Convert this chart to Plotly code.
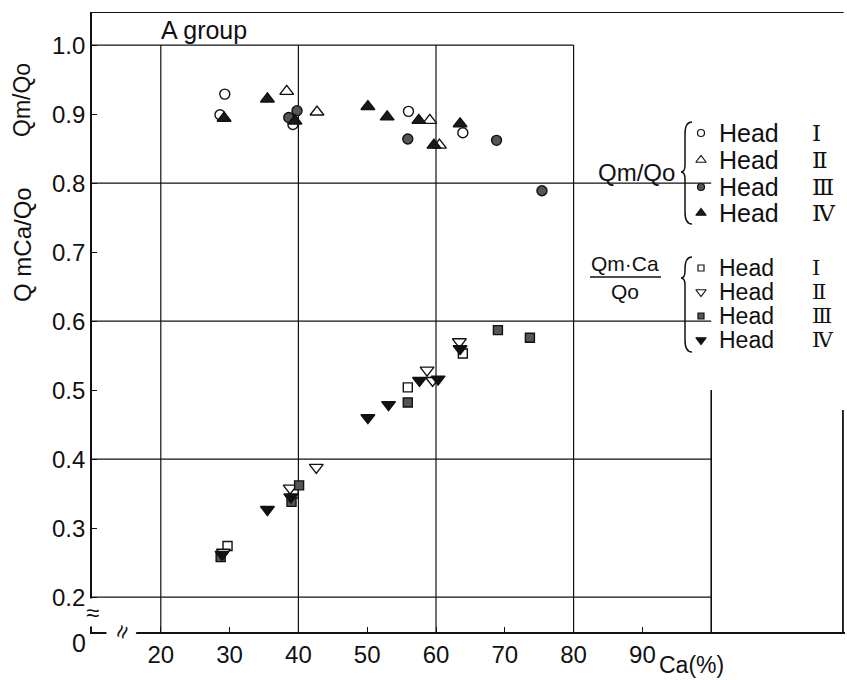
import plotly.graph_objects as go

# ---------------- data ----------------
# Qm/Qo group
qm_h1_x = [29.3, 28.6, 39.2, 56.0, 63.9]
qm_h1_y = [0.929, 0.899, 0.885, 0.904, 0.873]
qm_h2_x = [38.3, 42.7, 59.1, 60.5]
qm_h2_y = [0.933, 0.903, 0.891, 0.855]
qm_h3_x = [38.6, 39.8, 55.9, 68.8, 75.4]
qm_h3_y = [0.895, 0.905, 0.864, 0.862, 0.789]
qm_h4_x = [29.2, 35.5, 39.5, 50.1, 52.9, 57.5, 59.7, 63.5]
qm_h4_y = [0.894, 0.922, 0.890, 0.911, 0.896, 0.891, 0.855, 0.886]

# Qm*Ca/Qo group
qc_h1_x = [29.7, 39.3, 55.9, 63.9]
qc_h1_y = [0.274, 0.350, 0.504, 0.553]
qc_h2_x = [29.1, 38.8, 42.6, 58.7, 59.5, 63.4]
qc_h2_y = [0.265, 0.358, 0.388, 0.529, 0.514, 0.570]
qc_h3_x = [28.7, 39.0, 40.1, 55.9, 69.0, 73.65]
qc_h3_y = [0.258, 0.338, 0.362, 0.482, 0.587, 0.576]
qc_h4_x = [28.9, 35.5, 38.9, 50.1, 53.1, 57.6, 60.3, 63.5]
qc_h4_y = [0.262, 0.327, 0.345, 0.460, 0.479, 0.514, 0.516, 0.560]

x_tickvals = [20, 30, 40, 50, 60, 70, 80, 90]
x_ticktext = ["20", "30", "40", "50", "60", "70", "80", "90"]
y_tickvals = [0.2, 0.3, 0.4, 0.5, 0.6, 0.7, 0.8, 0.9, 1.0]
y_ticktext = ["0.2", "0.3", "0.4", "0.5", "0.6", "0.7", "0.8", "0.9", "1.0"]
numerals = ["Ⅰ", "Ⅱ", "Ⅲ", "Ⅳ"]

# ---------------- layout geometry ----------------
WIDTH, HEIGHT = 847, 680
L, T, R, B = 92, 12, 2, 48
W = WIDTH - L - R
H = HEIGHT - T - B
XR = [10, 10 + W / 6.88]
YR = [1.048 - H / 690.0, 1.048]

def px2x(px):
    return XR[0] + (px - L) / W * (XR[1] - XR[0])

def py2y(py):
    return YR[1] - (py - T) / H * (YR[1] - YR[0])

def pxp(px):
    return (px - L) / W

def pyp(py):
    return (T + H - py) / H

FONT = "Liberation Sans"
BLACK = "#111111"

styles = {
    "h1o": dict(symbol="circle", color="white", size=10),
    "h2o": dict(symbol="triangle-up", color="white", size=12),
    "h3o": dict(symbol="circle", color="#555555", size=10),
    "h4o": dict(symbol="triangle-up", color="#1a1a1a", size=12),
    "h1c": dict(symbol="square", color="white", size=9),
    "h2c": dict(symbol="triangle-down", color="white", size=12),
    "h3c": dict(symbol="square", color="#555555", size=9),
    "h4c": dict(symbol="triangle-down", color="#111111", size=12),
}

fig = go.Figure()

series = [
    ("h1o", qm_h1_x, qm_h1_y), ("h2o", qm_h2_x, qm_h2_y),
    ("h3o", qm_h3_x, qm_h3_y), ("h4o", qm_h4_x, qm_h4_y),
    ("h1c", qc_h1_x, qc_h1_y), ("h2c", qc_h2_x, qc_h2_y),
    ("h3c", qc_h3_x, qc_h3_y), ("h4c", qc_h4_x, qc_h4_y),
]
for key, xs, ys in series:
    st = styles[key]
    fig.add_trace(go.Scatter(
        x=xs, y=ys, mode="markers", showlegend=False, cliponaxis=False,
        marker=dict(symbol=st["symbol"], color=st["color"], size=st["size"],
                    line=dict(color=BLACK, width=1.4)),
    ))

# legend markers
leg1_py = [133, 160, 187, 213]
leg2_py = [268, 292, 316, 340]
for keys, pys in ((["h1o", "h2o", "h3o", "h4o"], leg1_py), (["h1c", "h2c", "h3c", "h4c"], leg2_py)):
    for key, py in zip(keys, pys):
        st = styles[key]
        fig.add_trace(go.Scatter(
            x=[px2x(701)], y=[py2y(py)], mode="markers", showlegend=False, cliponaxis=False,
            marker=dict(symbol=st["symbol"], color=st["color"], size=st["size"] - 3,
                        line=dict(color=BLACK, width=1.2)),
        ))

shapes = []
def line(x0, y0, x1, y1, w=1.2, ref="data"):
    if ref == "data":
        shapes.append(dict(type="line", xref="x", yref="y", x0=x0, y0=y0, x1=x1, y1=y1,
                           line=dict(color=BLACK, width=w), layer="below"))
    else:
        shapes.append(dict(type="line", xref="paper", yref="paper", x0=x0, y0=y0, x1=x1, y1=y1,
                           line=dict(color=BLACK, width=w), layer="above"))

# grid lines
line(XR[0], 1.0, 80, 1.0)
for gy in [0.8, 0.6, 0.4, 0.2]:
    line(XR[0], gy, 100, gy)
for gx in [20, 40, 60, 80]:
    line(gx, YR[0], gx, 1.0)
line(100, YR[0], 100, 0.50, w=1.6)
# frame top and far right edge
line(XR[0], YR[1], XR[1] - 0.2, YR[1], w=1.8)
line(XR[1] - 0.3, YR[0], XR[1] - 0.3, py2y(410), w=1.8)

# legend braces
def brace(px, top, bot, mid):
    path = (f"M {pxp(px+7)},{pyp(top)} Q {pxp(px)},{pyp(top)} {pxp(px)},{pyp(top+12)} "
            f"L {pxp(px)},{pyp(mid-7)} Q {pxp(px)},{pyp(mid)} {pxp(px-4)},{pyp(mid)} "
            f"Q {pxp(px)},{pyp(mid)} {pxp(px)},{pyp(mid+7)} "
            f"L {pxp(px)},{pyp(bot-12)} Q {pxp(px)},{pyp(bot)} {pxp(px+7)},{pyp(bot)}")
    shapes.append(dict(type="path", xref="paper", yref="paper", path=path,
                       line=dict(color=BLACK, width=1.5)))
brace(685, 122, 224, 172)
brace(685, 257, 352, 278)
# fraction bar
line(pxp(590), pyp(277), pxp(661), pyp(277), w=1.4, ref="paper")

annotations = []
def text(t, px, py, size, xanchor="center", angle=0, font=FONT, bg=None):
    a = dict(text=t, x=pxp(px), y=pyp(py), xref="paper", yref="paper", showarrow=False,
             xanchor=xanchor, yanchor="middle", textangle=angle,
             font=dict(family=font, size=size, color=BLACK))
    if bg:
        a["bgcolor"] = bg
        a["borderpad"] = 0
    annotations.append(a)

text("A group", 159, 30, 25, xanchor="left")
text("Qm/Qo", 22, 100, 23, angle=-90)
text("Q mCa/Qo", 22, 245, 24, angle=-90)
text("0", 79, 643, 25)
text("Ca(%)", 657, 665, 23, xanchor="left")
text("Qm/Qo", 636, 173, 24)
text("Qm·Ca", 625, 263, 21)
text("Qo", 625, 291, 21)
for pys, hs in ((leg1_py, 25), (leg2_py, 23)):
    for py, num in zip(pys, numerals):
        text("Head", 717, py, hs, xanchor="left")
        text(num, 810, py, hs - 2, xanchor="left", font="DejaVu Serif")
# axis break marks
text("≈", 92, 612, 24, bg="white")
text("≈", 121, 632, 24, angle=-70, bg="white")

fig.update_layout(
    width=WIDTH, height=HEIGHT,
    margin=dict(l=L, r=R, t=T, b=B, pad=0),
    paper_bgcolor="white", plot_bgcolor="white",
    shapes=shapes, annotations=annotations,
    font=dict(family=FONT, size=24, color=BLACK),
    xaxis=dict(range=XR, showgrid=False, zeroline=False, showline=True, linecolor=BLACK,
               linewidth=1.8, ticks="inside", ticklen=5, tickcolor=BLACK,
               tickvals=x_tickvals, ticktext=x_ticktext,
               tickfont=dict(family=FONT, size=24, color=BLACK)),
    yaxis=dict(range=YR, showgrid=False, zeroline=False, showline=True, linecolor=BLACK,
               linewidth=1.8, ticks="inside", ticklen=5, tickcolor=BLACK,
               tickvals=y_tickvals, ticktext=y_ticktext,
               tickfont=dict(family=FONT, size=24, color=BLACK)),
)

fig.write_html("out.html")
